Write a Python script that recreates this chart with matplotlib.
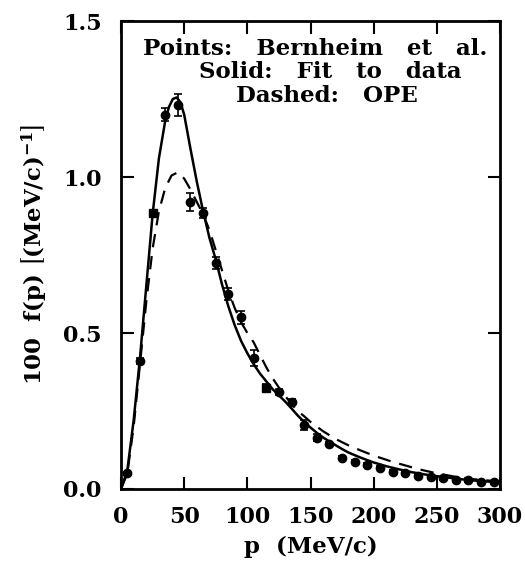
import numpy as np
import matplotlib.pyplot as plt

plt.rcParams['font.family'] = ['DejaVu Serif']
plt.rcParams['font.weight'] = 'bold'
plt.rcParams['axes.labelweight'] = 'bold'
plt.rcParams['mathtext.fontset'] = 'dejavuserif'

# Data points (Bernheim et al.)
p_data = [5, 15, 25, 35, 45, 55, 65, 75, 85, 95, 105, 115, 125, 135, 145,
          155, 165, 175, 185, 195, 205, 215, 225, 235, 245, 255, 265, 275, 285, 295]
f_data = [0.05, 0.41, 0.885, 1.20, 1.23, 0.92, 0.885, 0.725, 0.625, 0.55,
          0.42, 0.325, 0.31, 0.28, 0.205, 0.165, 0.145, 0.10, 0.088, 0.078,
          0.068, 0.056, 0.05, 0.042, 0.038, 0.035, 0.03, 0.028, 0.024, 0.022]
f_err = [0.005, 0.01, 0.01, 0.02, 0.035, 0.03, 0.015, 0.02, 0.02, 0.02,
         0.025, 0.01, 0.01, 0.01, 0.015, 0.01, 0.005, 0.005, 0.005, 0.005,
         0.005, 0.005, 0.005, 0.005, 0.005, 0.005, 0.005, 0.005, 0.005, 0.005]
square_idx = [2, 11]  # points drawn as squares

# Solid: fit to data
p_fit = [0, 5, 10, 15, 20, 25, 30, 35, 38, 41, 44, 47, 50, 55, 60, 65, 70, 75,
         80, 85, 90, 95, 100, 105, 110, 115, 120, 125, 130, 135, 140, 145,
         150, 155, 160, 165, 170, 175, 180, 190, 200, 210, 220, 230, 240, 250,
         260, 270, 280, 290, 300]
f_fit = [0.0, 0.06, 0.22, 0.42, 0.65, 0.88, 1.06, 1.18, 1.225, 1.25, 1.255,
         1.24, 1.20, 1.09, 0.985, 0.89, 0.805, 0.735, 0.655, 0.585, 0.525,
         0.475, 0.435, 0.40, 0.37, 0.345, 0.32, 0.30, 0.28, 0.258, 0.235,
         0.215, 0.197, 0.18, 0.165, 0.152, 0.14, 0.128, 0.117, 0.10, 0.085,
         0.073, 0.063, 0.054, 0.047, 0.041, 0.036, 0.031, 0.027, 0.024, 0.021]

# Dashed: OPE
p_ope = [0, 5, 10, 15, 20, 25, 30, 35, 40, 45, 50, 55, 60, 65, 70, 75, 80, 85,
         90, 95, 100, 105, 110, 115, 120, 125, 130, 135, 140, 145, 150, 160,
         170, 180, 190, 200, 215, 235, 250, 265, 280, 300]
f_ope = [0.0, 0.05, 0.2, 0.4, 0.6, 0.77, 0.89, 0.965, 1.005, 1.015, 0.995,
         0.96, 0.92, 0.88, 0.83, 0.765, 0.7, 0.635, 0.58, 0.535, 0.5, 0.47,
         0.43, 0.39, 0.355, 0.325, 0.298, 0.272, 0.25, 0.233, 0.215, 0.185,
         0.16, 0.14, 0.123, 0.107, 0.087, 0.064, 0.05, 0.039, 0.031, 0.024]

fig = plt.figure(figsize=(5.25, 5.62), dpi=100)
ax = fig.add_axes([0.2305, 0.1299, 0.7219, 0.8327])

ax.plot(p_fit, f_fit, color='black', lw=1.8, solid_joinstyle='round')
ax.plot(p_ope, f_ope, color='black', lw=1.6, linestyle=(0, (6, 4)))

p_arr = np.array(p_data)
f_arr = np.array(f_data)
e_arr = np.array(f_err)
circ = [i for i in range(len(p_data)) if i not in square_idx]
ax.errorbar(p_arr, f_arr, yerr=e_arr, fmt='none', ecolor='black',
            elinewidth=1.2, capsize=3, capthick=1.2)
ax.plot(p_arr[circ], f_arr[circ], 'o', color='black', ms=6)
ax.plot(p_arr[square_idx], f_arr[square_idx], 's', color='black', ms=5.5)

ax.set_xlim(0, 300)
ax.set_ylim(0, 1.5)
ax.set_xticks([0, 50, 100, 150, 200, 250, 300])
ax.set_xticklabels(['0', '50', '100', '150', '200', '250', '300'],
                   fontweight='bold', fontsize=16)
ax.set_yticks([0.0, 0.5, 1.0, 1.5])
ax.set_yticklabels(['0.0', '0.5', '1.0', '1.5'], fontweight='bold',
                   fontsize=16)
ax.tick_params(direction='in', length=9, width=1.5, top=True, right=True)
ax.tick_params(axis='x', pad=12)
ax.tick_params(axis='y', pad=14)
for s in ax.spines.values():
    s.set_linewidth(2)

ax.set_xlabel('p  (MeV/c)', fontsize=16.5, fontweight='bold', labelpad=6)
ax.set_ylabel(r'$\mathbf{100\ \ f(p)}\ \left[\mathbf{(MeV/c)^{-1}}\right]$',
              fontsize=16.5, labelpad=10)

ax.text(154, 1.41, 'Points:   Bernheim   et   al.', ha='center',
        va='center', fontsize=16.5, fontweight='bold')
ax.text(166, 1.336, 'Solid:   Fit   to   data', ha='center', va='center',
        fontsize=16.5, fontweight='bold')
ax.text(163, 1.26, 'Dashed:   OPE', ha='center', va='center',
        fontsize=16.5, fontweight='bold')

fig.savefig('out.png', dpi=100)
